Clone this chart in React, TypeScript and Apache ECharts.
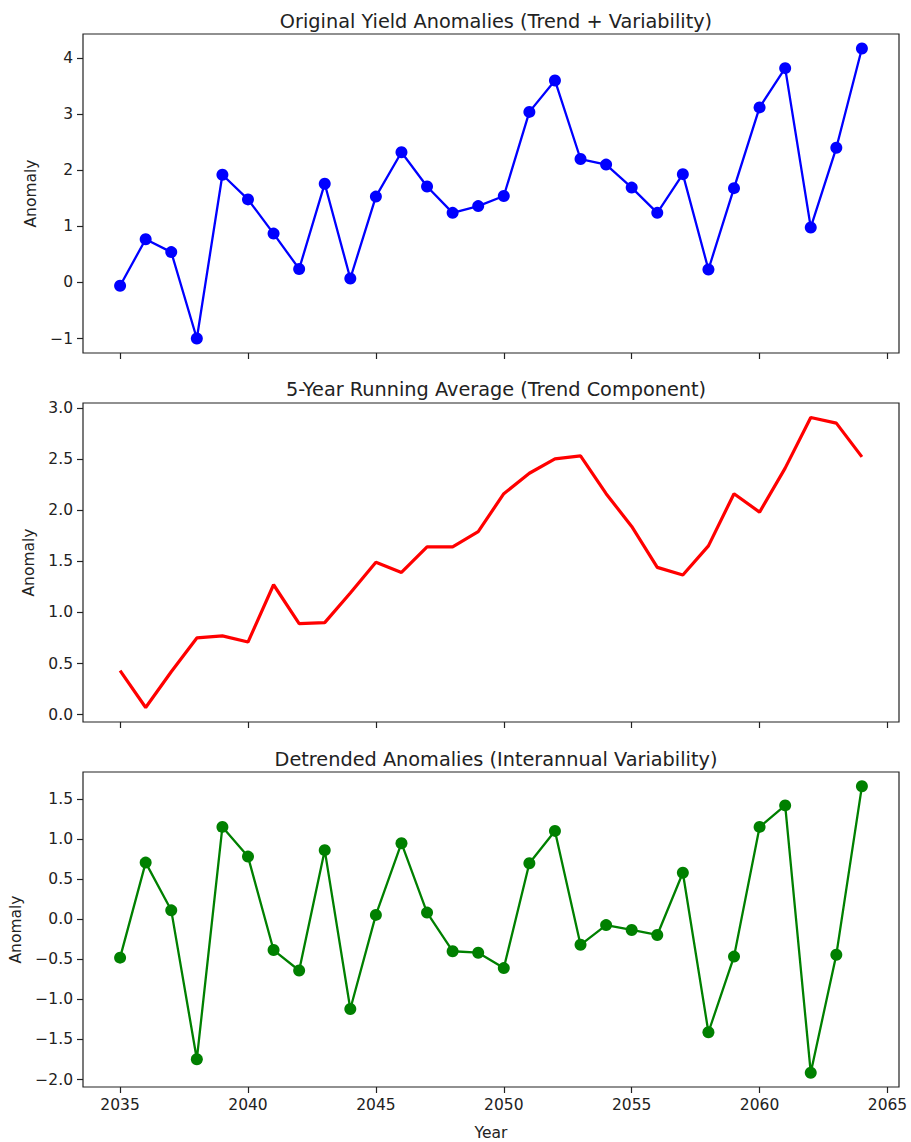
import React, { useEffect, useRef } from "react";
import * as echarts from "echarts";

const years: number[] = [
  2035, 2036, 2037, 2038, 2039, 2040, 2041, 2042, 2043, 2044,
  2045, 2046, 2047, 2048, 2049, 2050, 2051, 2052, 2053, 2054,
  2055, 2056, 2057, 2058, 2059, 2060, 2061, 2062, 2063, 2064,
];

const original: number[] = [
  -0.06, 0.77, 0.54, -1.0, 1.92, 1.48, 0.87, 0.24, 1.76, 0.07,
  1.53, 2.32, 1.71, 1.24, 1.36, 1.54, 3.04, 3.6, 2.2, 2.1,
  1.69, 1.24, 1.93, 0.23, 1.68, 3.12, 3.82, 0.98, 2.4, 4.17,
];

const runningAvg: number[] = [
  0.43, 0.07, 0.42, 0.75, 0.77, 0.71, 1.27, 0.89, 0.9, 1.19,
  1.49, 1.39, 1.64, 1.64, 1.79, 2.16, 2.36, 2.5, 2.53, 2.16,
  1.84, 1.44, 1.365, 1.65, 2.16, 1.98, 2.41, 2.905, 2.85, 2.52,
];

const detrended: number[] = [
  -0.48, 0.705, 0.11, -1.746, 1.15, 0.78, -0.385, -0.64, 0.86, -1.12,
  0.053, 0.947, 0.082, -0.4, -0.418, -0.61, 0.697, 1.1, -0.32, -0.074,
  -0.135, -0.197, 0.578, -1.41, -0.467, 1.15, 1.418, -1.914, -0.443, 1.656,
];

const xTicks: number[] = [2035, 2040, 2045, 2050, 2055, 2060, 2065];
const yTicks1: number[] = [-1, 0, 1, 2, 3, 4];
const yTicks2: number[] = [0, 0.5, 1, 1.5, 2, 2.5, 3];
const yTicks3: number[] = [-2, -1.5, -1, -0.5, 0, 0.5, 1, 1.5];

const titles: string[] = [
  "Original Yield Anomalies (Trend + Variability)",
  "5-Year Running Average (Trend Component)",
  "Detrended Anomalies (Interannual Variability)",
];

const FONT = "DejaVu Sans";

function limits(arr: number[]): [number, number] {
  const lo = Math.min(...arr);
  const hi = Math.max(...arr);
  const pad = (hi - lo) * 0.05;
  return [lo - pad, hi + pad];
}

function fmt(v: number, dec: number): string {
  return v.toFixed(dec).replace("-", "\u2212");
}

export default function App() {
  const ref = useRef<HTMLDivElement>(null);
  useEffect(() => {
    if (!ref.current) return;
    const chart = echarts.init(ref.current, undefined, { renderer: "svg" });
    const xl = limits(years);
    const lims = [limits(original), limits(runningAvg), limits(detrended)];
    const yTicks = [yTicks1, yTicks2, yTicks3];
    const decs = [0, 1, 1];
    const tops = [34, 403, 772];
    const titleTops = [7, 375, 745];
    const nameGaps = [40, 42, 55];
    const colors = ["#0000ff", "#ff0000", "#008000"];
    const datas = [original, runningAvg, detrended];

    const grids = tops.map((t) => ({
      left: 83,
      top: t,
      width: 816,
      height: 319,
      show: true,
      borderColor: "#222",
      borderWidth: 1.2,
      backgroundColor: "transparent",
    }));

    const xAxes = [0, 1, 2].map((i) => ({
      type: "value",
      gridIndex: i,
      min: xl[0],
      max: xl[1],
      axisLine: { show: false, onZero: false },
      splitLine: { show: false },
      axisTick: {
        show: true,
        inside: false,
        length: 6,
        customValues: xTicks,
        lineStyle: { color: "#222", width: 1.2 },
      },
      axisLabel: {
        show: i === 2,
        customValues: xTicks,
        margin: 10,
        fontFamily: FONT,
        fontSize: 15.5,
        color: "#222",
        formatter: (v: number) => String(v),
      },
      name: i === 2 ? "Year" : "",
      nameLocation: "middle",
      nameGap: 38,
      nameTextStyle: { fontFamily: FONT, fontSize: 15.5, color: "#222" },
    }));

    const yAxes = [0, 1, 2].map((i) => ({
      type: "value",
      gridIndex: i,
      min: lims[i][0],
      max: lims[i][1],
      axisLine: { show: false, onZero: false },
      splitLine: { show: false },
      axisTick: {
        show: true,
        inside: false,
        length: 6,
        customValues: yTicks[i],
        lineStyle: { color: "#222", width: 1.2 },
      },
      axisLabel: {
        customValues: yTicks[i],
        margin: 10,
        fontFamily: FONT,
        fontSize: 15.5,
        color: "#222",
        formatter: (v: number) => fmt(v, decs[i]),
      },
      name: "Anomaly",
      nameLocation: "middle",
      nameGap: nameGaps[i],
      nameTextStyle: { fontFamily: FONT, fontSize: 15.5, color: "#222" },
    }));

    const series = [0, 1, 2].map((i) => ({
      type: "line",
      xAxisIndex: i,
      yAxisIndex: i,
      data: years.map((y, k) => [y, datas[i][k]]),
      symbol: i === 1 ? "none" : "circle",
      showSymbol: i !== 1,
      symbolSize: 12,
      lineStyle: { color: colors[i], width: i === 1 ? 3.2 : 2.3 },
      itemStyle: { color: colors[i] },
      z: 3,
    }));

    chart.setOption({
      animation: false,
      backgroundColor: "#ffffff",
      title: titles.map((t, i) => ({
        text: t,
        left: 491,
        top: titleTops[i],
        textAlign: "center",
        textStyle: {
          fontFamily: FONT,
          fontSize: 19.3,
          fontWeight: "normal",
          color: "#222",
        },
      })),
      grid: grids,
      xAxis: xAxes,
      yAxis: yAxes,
      series,
    });
    return () => chart.dispose();
  }, []);
  return (
    <div
      ref={ref}
      style={{ position: "fixed", left: 0, top: 0, width: 911, height: 1142 }}
    />
  );
}
